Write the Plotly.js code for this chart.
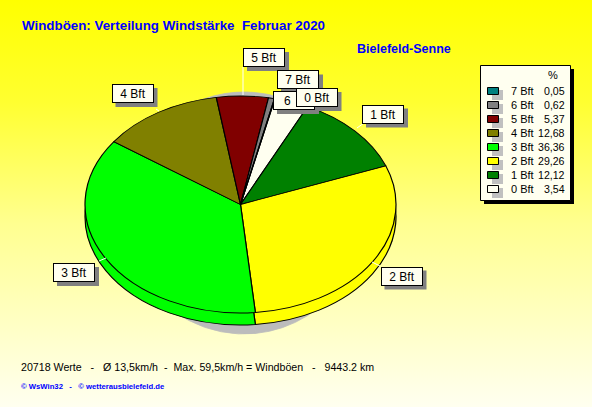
<!DOCTYPE html>
<html><head><meta charset="utf-8">
<script src="https://cdn.plot.ly/plotly-3.0.1.min.js"></script>
<style>html,body{margin:0;padding:0;width:592px;height:407px;overflow:hidden;background:linear-gradient(180deg,#ffff00 0%,#ffff30 25%,#ffff90 55%,#fffff0 100%)}#c{width:592px;height:407px}</style>
</head><body><div id="c"></div>
<script>
const W=592,H=407;
const categories=['0 Bft','1 Bft','2 Bft','3 Bft','4 Bft','5 Bft','6 Bft','7 Bft'];
const values=[3.54,12.12,29.26,36.36,12.68,5.37,0.62,0.05];
const valueLabels=['3,54','12,12','29,26','36,36','12,68','5,37','0,62','0,05'];
const colors=['#fffff0','#008000','#ffff00','#00ff00','#808000','#800000','#808080','#008080'];
const legendOrder=[7,6,5,4,3,2,1,0];
const titleText='Windböen: Verteilung Windstärke  Februar 2020';
const stationText='Bielefeld-Senne';
const footerText='20718 Werte   -   Ø 13,5km/h  -  Max. 59,5km/h = Windböen   -   9443.2 km';
const creditText='© WsWin32   -   © wetterausbielefeld.de';
const pieLabelBoxes=[[383,114,'1 Bft'],[401.5,276,'2 Bft'],[74,272.5,'3 Bft'],[132.5,93.5,'4 Bft'],[264,57.5,'5 Bft'],[298,80,'7 Bft'],[294,100.5,'6'],[316.5,97.5,'0 Bft']];
const cx=240.5, rx=155.5, ry=108.5, topY=204.5, depth=12;
const fx=v=>v/W, fy=v=>1-v/H;
function pie(line,col,lw){return {type:'pie',values:values,labels:categories,sort:false,direction:'clockwise',rotation:12.8,textinfo:'none',hoverinfo:'label+value',showlegend:false,
 marker:{colors:col||colors,line:{color:line,width:lw}},
 domain:{x:[fx(cx-rx),fx(cx+rx)],y:[fy(H/2+rx),fy(H/2-rx)]}};}
const traces=[pie('#bcbcbc',values.map(()=>'#bcbcbc'),1),pie('#000',null,1.2),pie('#000',null,1.2)];
const shapes=[],ann=[];
function T(x,y,text,size,color,anchor,extra){ann.push(Object.assign({xref:'paper',yref:'paper',x:fx(x),y:fy(y),text:text,showarrow:false,xanchor:anchor||'left',yanchor:'middle',font:{family:'Liberation Sans',size:size,color:color},borderpad:0},extra||{}));}
function R(x0,y0,x1,y1,fill,line){shapes.push({type:'rect',xref:'paper',yref:'paper',x0:fx(x0),x1:fx(x1),y0:fy(y1),y1:fy(y0),fillcolor:fill,line:{color:line||fill,width:line?1:0},layer:'above'});}
const nb=s=>s.replace(/ {2,}/g,m=>'&nbsp;'.repeat(m.length));
T(21,25,'<b>'+nb(titleText)+'</b>',13.35,'#0000ff');
T(356,49,'<b>'+stationText+'</b>',12.5,'#0000ff');
T(20,367,nb(footerText),10.65,'#000');
T(20,386,'<b>'+nb(creditText)+'</b>',7.7,'#0000ff');
// legend
R(484,69,574,204,'#000');
R(480.5,65.5,570.5,200.5,'#fffff0','#000');
T(553,75,'%',11,'#000','center');
legendOrder.forEach((k,i)=>{const y=91+14*i;
 R(492,y-1,503,y+9,'#c0c0c0');
 R(487.5,y-3.5,498.5,y+3.5,colors[k],'#000');
 T(510,y,categories[k],11,'#000');
 T(566,y,valueLabels[k],10.6,'#000','right');
});
// leader lines and label boxes
const leaders=[[364,123,357,128],[380,266,372,262],[99,261,106,258],[156,109,159,111],[243,67,243,95]];
leaders.forEach(l=>shapes.push({type:'line',xref:'paper',yref:'paper',x0:fx(l[0]),y0:fy(l[1]),x1:fx(l[2]),y1:fy(l[3]),line:{color:'#fff',width:1},layer:'above'}));
const bw=42,bh=19;
pieLabelBoxes.forEach(b=>R(b[0]-bw/2+4,b[1]-bh/2+4,b[0]+bw/2+4,b[1]+bh/2+4,'#808080'));
pieLabelBoxes.forEach(b=>T(b[0],b[1],b[2]==='6'?'&nbsp;&nbsp;&nbsp;6':b[2],12,'#000','center',{bgcolor:'#fffff0',bordercolor:'#000',borderwidth:1,width:bw-2,height:bh-2,align:b[2]==='6'?'left':'center',valign:'middle'}));
const layout={width:W,height:H,margin:{l:0,r:0,t:0,b:0},paper_bgcolor:'rgba(0,0,0,0)',plot_bgcolor:'rgba(0,0,0,0)',showlegend:false,shapes:shapes,annotations:ann};
Plotly.newPlot('c',traces,layout,{displayModeBar:false,staticPlot:true}).then(()=>{
 const k=ry/rx;
 const gs=document.querySelectorAll('.pielayer .trace');
 const place=[[244,213,120/rx,121/rx],[cx,topY+depth,1,k],[cx,topY,1,k]];
 gs.forEach((g,i)=>{const p=place[i];
  g.setAttribute('transform','translate('+p[0]+','+p[1]+') scale('+p[2]+','+p[3]+') translate('+(-cx)+','+(-H/2)+')');
 });
});
</script></body></html>
